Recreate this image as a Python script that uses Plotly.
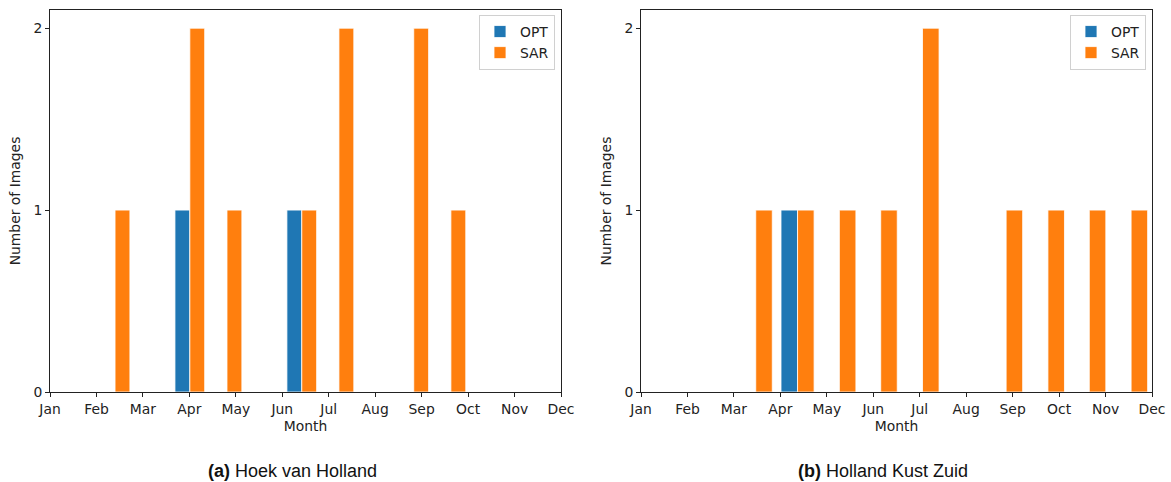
import plotly.graph_objects as go

# ---------------- data ----------------
month_labels = ["Jan", "Feb", "Mar", "Apr", "May", "Jun",
                "Jul", "Aug", "Sep", "Oct", "Nov", "Dec"]
month_ticks = [1, 2, 3, 4, 5, 6, 7, 8, 9, 10, 11, 12]

# (a) Hoek van Holland: histogram bin centres (month units) and counts
a_bins = [1.60, 2.40, 3.21, 4.01, 4.81, 5.62, 6.42, 7.22, 8.03, 8.83, 9.63, 10.44]
a_opt = [0, 0, 0, 1, 0, 0, 1, 0, 0, 0, 0, 0]
a_sar = [0, 1, 0, 2, 1, 0, 1, 2, 0, 2, 1, 0]

# (b) Holland Kust Zuid
b_bins = [1.67, 2.57, 3.47, 4.37, 5.27, 6.16, 7.06, 7.96, 8.86, 9.76, 10.65, 11.55]
b_opt = [0, 0, 0, 1, 0, 0, 0, 0, 0, 0, 0, 0]
b_sar = [0, 0, 1, 1, 1, 1, 2, 0, 1, 1, 1, 1]

captions = ["<b>(a)</b> Hoek van Holland", "<b>(b)</b> Holland Kust Zuid"]

OPT_C = "#1f77b4"
SAR_C = "#ff7f0e"
W, H = 1171, 482
FONT = "DejaVu Sans"
FS = 13.9

fig = go.Figure()

panels = [
    (a_bins, a_opt, a_sar, "x", "y", "legend"),
    (b_bins, b_opt, b_sar, "x2", "y2", "legend2"),
]
for bins, opt, sar, xa, ya, lg in panels:
    fig.add_trace(go.Bar(x=bins, y=opt, name="OPT", marker_color=OPT_C,
                         marker_line=dict(color="white", width=0.8),
                         xaxis=xa, yaxis=ya, legend=lg))
    fig.add_trace(go.Bar(x=bins, y=sar, name="SAR", marker_color=SAR_C,
                         marker_line=dict(color="white", width=0.8),
                         xaxis=xa, yaxis=ya, legend=lg))

dom_y = [(H - 392) / H, (H - 10) / H]
xdoms = [[50 / W, 561 / W], [641 / W, 1152 / W]]

axis_common = dict(showline=True, linecolor="#222", linewidth=1, mirror=True,
                   ticks="outside", ticklen=4, tickcolor="#222",
                   showgrid=False, zeroline=False, automargin=False,
                   tickfont=dict(family=FONT, size=FS, color="#222"))

layout = dict(
    width=W, height=H,
    margin=dict(l=0, r=0, t=0, b=0),
    plot_bgcolor="white", paper_bgcolor="white",
    barmode="group", bargap=0.2, bargroupgap=0,
    font=dict(family=FONT, color="#222"),
)
for i, suffix in enumerate(["", "2"]):
    layout["xaxis" + suffix] = dict(
        domain=xdoms[i], range=[1, 12], tickmode="array",
        tickvals=month_ticks, ticktext=month_labels,
        title=dict(text="Month", font=dict(family=FONT, size=FS), standoff=5),
        anchor="y" + suffix, **axis_common)
    layout["yaxis" + suffix] = dict(
        domain=dom_y, range=[0, 2.1], tickmode="array",
        tickvals=[0, 1, 2],
        title=dict(text="Number of Images", font=dict(family=FONT, size=FS), standoff=9),
        anchor="x" + suffix, **axis_common)

leg_common = dict(bgcolor="rgba(255,255,255,0.8)", bordercolor="#d0d0d0", borderwidth=1,
                  font=dict(family=FONT, size=FS, color="#222"),
                  xanchor="right", yanchor="top", tracegroupgap=0)
layout["legend"] = dict(x=555 / W, y=(H - 15) / H, **leg_common)
layout["legend2"] = dict(x=1146 / W, y=(H - 15) / H, **leg_common)

fig.update_layout(**layout)

for cx, txt in zip([292, 883], captions):
    fig.add_annotation(x=cx / W, y=(H - 471) / H, xref="paper", yref="paper",
                       text=txt, showarrow=False, xanchor="center", yanchor="middle",
                       font=dict(family="Liberation Sans", size=18, color="#111"))

fig.write_html("out.html")
